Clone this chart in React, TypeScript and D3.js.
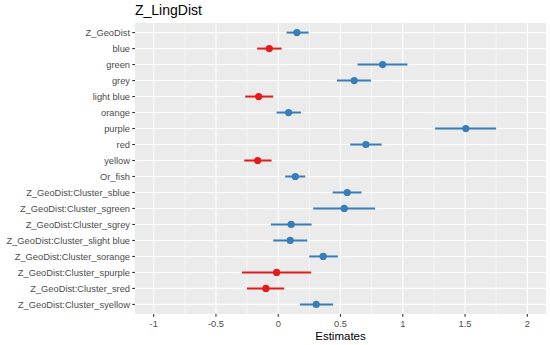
import React from 'react';
import * as d3 from 'd3';

// terms top to bottom, with estimate and confidence interval
const terms = [
  'Z_GeoDist', 'blue', 'green', 'grey', 'light blue', 'orange', 'purple', 'red', 'yellow', 'Or_fish',
  'Z_GeoDist:Cluster_sblue', 'Z_GeoDist:Cluster_sgreen', 'Z_GeoDist:Cluster_sgrey',
  'Z_GeoDist:Cluster_slight blue', 'Z_GeoDist:Cluster_sorange', 'Z_GeoDist:Cluster_spurple',
  'Z_GeoDist:Cluster_sred', 'Z_GeoDist:Cluster_syellow',
];
const estimates = [0.15, -0.072, 0.838, 0.61, -0.157, 0.083, 1.506, 0.704, -0.165, 0.137, 0.554, 0.53, 0.104, 0.096, 0.361, -0.013, -0.099, 0.305];
const ciLow = [0.067, -0.169, 0.637, 0.471, -0.265, -0.013, 1.26, 0.578, -0.273, 0.056, 0.437, 0.281, -0.059, -0.04, 0.249, -0.291, -0.251, 0.174];
const ciHigh = [0.244, 0.027, 1.038, 0.744, -0.04, 0.182, 1.75, 0.83, -0.053, 0.217, 0.669, 0.778, 0.268, 0.233, 0.479, 0.265, 0.048, 0.441];
const xTicks = [-1, -0.5, 0, 0.5, 1, 1.5, 2];
const xMinor = [-0.75, -0.25, 0.25, 0.75, 1.25, 1.75];

const W = 550;
const H = 345;
const margin = { top: 23, right: 4, bottom: 31, left: 135 };
const font = '"Liberation Sans", Arial, sans-serif';

export default function App() {
  const pw = W - margin.left - margin.right;
  const ph = H - margin.top - margin.bottom;
  const x = d3.scaleLinear().domain([-1.15, 2.15]).range([0, pw]);
  const n = terms.length;
  const y = d3.scaleLinear().domain([-0.6, n - 1 + 0.6]).range([0, ph]);
  const col = (v: number) => (v < 0 ? '#e41a1c' : '#377eb8');

  return (
    <svg width={W} height={H} style={{ position: 'absolute', left: 0, top: 0, fontFamily: font }}>
      <rect width={W} height={H} fill="#fff" />
      <text x={margin.left} y={15} fontSize={14} fill="#000">Z_LingDist</text>
      <g transform={`translate(${margin.left},${margin.top})`}>
        <rect width={pw} height={ph} fill="#ebebeb" />
        {xMinor.map(t => (
          <line key={'m' + t} x1={x(t)} x2={x(t)} y1={0} y2={ph} stroke="#fff" strokeWidth={0.55} />
        ))}
        {xTicks.map(t => (
          <line key={'M' + t} x1={x(t)} x2={x(t)} y1={0} y2={ph} stroke="#fff" strokeWidth={1.1} />
        ))}
        {terms.map((t, i) => (
          <line key={'h' + t} x1={0} x2={pw} y1={y(i)} y2={y(i)} stroke="#fff" strokeWidth={1.1} />
        ))}
        {terms.map((t, i) => (
          <g key={'p' + t}>
            <line x1={x(ciLow[i])} x2={x(ciHigh[i])} y1={y(i)} y2={y(i)} stroke={col(estimates[i])} strokeWidth={2} />
            <circle cx={x(estimates[i])} cy={y(i)} r={3.6} fill={col(estimates[i])} />
          </g>
        ))}
        {terms.map((t, i) => (
          <g key={'y' + t}>
            <line x1={-2.75} x2={0} y1={y(i)} y2={y(i)} stroke="#333" strokeWidth={1.1} />
            <text x={-5} y={y(i)} dy="0.35em" textAnchor="end" fontSize={9.3} fill="#4d4d4d">{t}</text>
          </g>
        ))}
        {xTicks.map(t => (
          <g key={'x' + t}>
            <line x1={x(t)} x2={x(t)} y1={ph} y2={ph + 2.75} stroke="#333" strokeWidth={1.1} />
            <text x={x(t)} y={ph + 12.5} textAnchor="middle" fontSize={9.3} fill="#4d4d4d">{t}</text>
          </g>
        ))}
        <text x={pw / 2} y={ph + 26} textAnchor="middle" fontSize={11.5} fill="#000">Estimates</text>
      </g>
    </svg>
  );
}
